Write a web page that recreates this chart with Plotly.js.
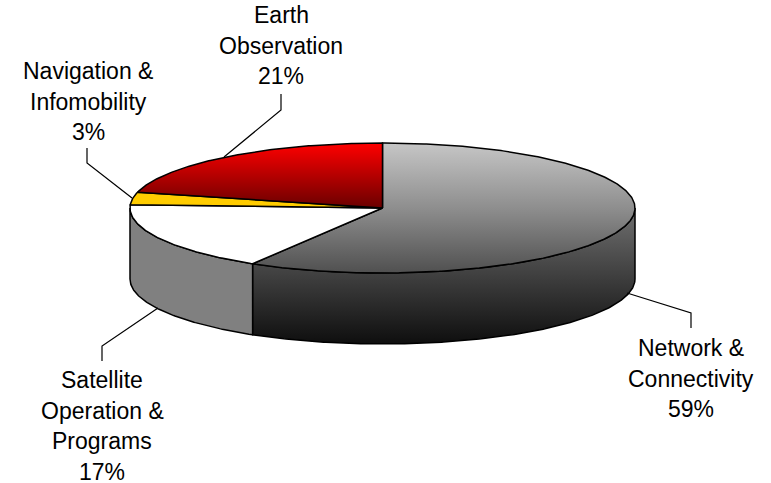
<!DOCTYPE html>
<html>
<head>
<meta charset="utf-8">
<script src="https://cdn.plot.ly/plotly-3.0.1.min.js"></script>
<style>html,body{margin:0;padding:0;background:#fff}#chart{width:771px;height:483px}</style>
</head>
<body>
<div id="chart"></div>
<script>
// Data
var categories = ["Network &|Connectivity", "Satellite|Operation &|Programs", "Navigation &|Infomobility", "Earth|Observation"];
var shares = [58.6, 17.2, 3.1, 21.1];

// Layout of the drawing (pixel space of the axes)
var CX = 382.5, CY = 208, RX = 252.5, RY = 65, DEPTH = 71;
var LINE_STEP = 30.6, FONT_SIZE = 23, FONT = '"Liberation Sans", Arial, sans-serif';
var labelCentres = [[691, 348], [102, 380], [88, 71], [281, 15]];
var leaders = [
  [[691, 328], [691, 313], [627, 293]],
  [[102, 361], [102, 346], [158, 308]],
  [[87, 148], [87, 163], [132, 198]],
  [[281, 94], [281, 110], [224, 157]]
];

function pt(deg, dy) {
  var a = deg * Math.PI / 180;
  return [CX + RX * Math.sin(a), CY - RY * Math.cos(a) + (dy || 0)];
}
function arc(a0, a1, dy) {
  var out = [], n = Math.max(2, Math.ceil(Math.abs(a1 - a0) * 2));
  for (var i = 0; i <= n; i++) out.push(pt(a0 + (a1 - a0) * i / n, dy));
  return out;
}
function poly(points, fill) {
  var t = {
    x: points.map(function (p) { return p[0]; }),
    y: points.map(function (p) { return p[1]; }),
    mode: 'lines', fill: 'toself', hoverinfo: 'skip', showlegend: false,
    line: {color: '#000', width: 1.5}
  };
  if (fill.gradient) t.fillgradient = fill.gradient; else t.fillcolor = fill.color;
  return t;
}
function vgrad(stops, y0, y1) {
  return {gradient: {type: 'vertical', start: y0, stop: y1, colorscale: stops}};
}

var total = shares.reduce(function (a, b) { return a + b; }, 0);
var bounds = [0];
shares.forEach(function (v, i) { bounds.push(bounds[i] + v / total * 360); });

var topFills = [
  vgrad([[0, '#c6c6c6'], [0.5, '#8e8e8e'], [1, '#505050']], CY - RY, CY + RY),
  {color: '#ffffff'},
  {gradient: {type: 'horizontal', start: CX - RX, stop: CX, colorscale: [[0, '#ffcc00'], [0.75, '#ffcc00'], [0.9, '#7a6000'], [1, '#000000']]}},
  vgrad([[0, '#ff0000'], [1, '#6a0000']], CY - RY, CY)
];
var sideFills = [
  vgrad([[0, '#707070'], [1, '#0e0e0e']], CY, CY + RY + DEPTH),
  {color: '#808080'}
];

var traces = [];
// Visible walls: only the part of each slice on the front half of the ellipse
[0, 1].forEach(function (i) {
  var a0 = Math.max(bounds[i], 90), a1 = Math.min(bounds[i + 1], 270);
  var pts = arc(a0, a1, 0).concat(arc(a1, a0, DEPTH));
  pts.push(pts[0]);
  traces.push(poly(pts, sideFills[i]));
});
// Top faces
shares.forEach(function (v, i) {
  var pts = [[CX, CY]].concat(arc(bounds[i], bounds[i + 1], 0));
  pts.push([CX, CY]);
  traces.push(poly(pts, topFills[i]));
});
// Leader lines
leaders.forEach(function (l) {
  traces.push({
    x: l.map(function (p) { return p[0]; }), y: l.map(function (p) { return p[1]; }),
    mode: 'lines', hoverinfo: 'skip', showlegend: false, line: {color: '#000', width: 1.2}
  });
});

// Labels, one annotation per line
var annotations = [];
categories.forEach(function (c, i) {
  var lines = c.split('|').concat([Math.round(shares[i]) + '%']);
  lines.forEach(function (txt, k) {
    annotations.push({
      x: labelCentres[i][0], y: labelCentres[i][1] + k * LINE_STEP,
      xref: 'x', yref: 'y', text: txt, showarrow: false,
      xanchor: 'center', yanchor: 'middle',
      font: {family: FONT, size: FONT_SIZE, color: '#000'}
    });
  });
});

var axis = {visible: false, fixedrange: true, zeroline: false, showgrid: false};
Plotly.newPlot('chart', traces, {
  width: 771, height: 483,
  margin: {l: 0, r: 0, t: 0, b: 0},
  paper_bgcolor: '#fff', plot_bgcolor: '#fff',
  showlegend: false,
  xaxis: Object.assign({range: [0, 771]}, axis),
  yaxis: Object.assign({range: [483, 0]}, axis),
  annotations: annotations
}, {displayModeBar: false, staticPlot: true});
</script>
</body>
</html>
